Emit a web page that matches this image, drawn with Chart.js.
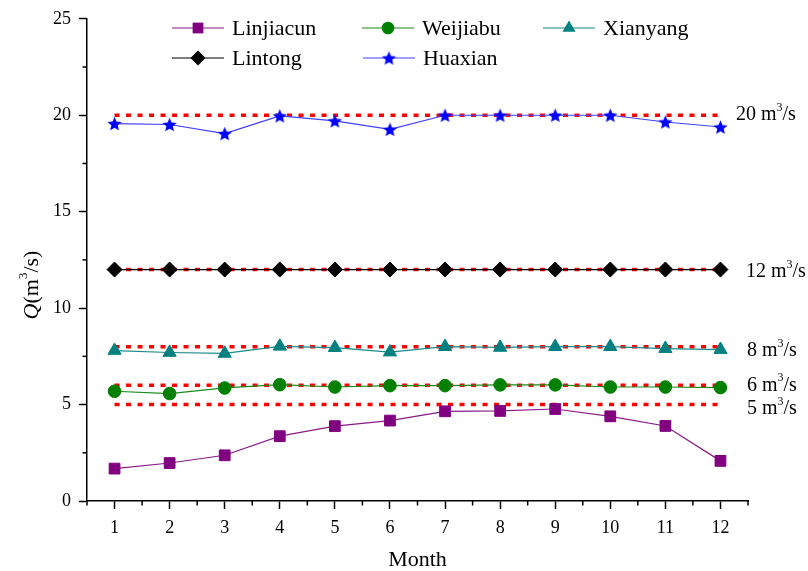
<!DOCTYPE html>
<html>
<head>
<meta charset="utf-8">
<script src="https://cdn.jsdelivr.net/npm/chart.js@4.4.1/dist/chart.umd.min.js"></script>
<style>
html,body{margin:0;padding:0;background:#fff;}
#wrap{width:808px;height:571px;position:relative;}
</style>
</head>
<body>
<div id="wrap"><canvas id="c" width="808" height="571"></canvas></div>
<script>
const months = ['1','2','3','4','5','6','7','8','9','10','11','12'];
const linjiacun = [1.68,1.97,2.37,3.36,3.88,4.17,4.65,4.67,4.77,4.39,3.89,2.08];
const weijiabu  = [5.69,5.57,5.86,6.03,5.91,5.98,5.98,6.02,6.02,5.91,5.91,5.88];
const xianyang  = [7.80,7.70,7.65,8.02,7.95,7.72,8.00,7.96,8.00,8.00,7.90,7.85];
const lintong   = [12,12,12,12,12,12,12,12,12,12,12,12];
const huaxian   = [19.57,19.52,19.05,19.97,19.71,19.27,20.0,20.0,20.0,20.0,19.65,19.39];
const refLevels = [20,12,8,6,5];
const refLabels = ['20','12','8','6','5'];
const yTicks = [0,5,10,15,20,25];

const FONT = '"Liberation Serif","Times New Roman",serif';

function makeStar(color, R){
  const s = Math.ceil(R*2+2);
  const cv = document.createElement('canvas');
  cv.width = s; cv.height = s;
  const g = cv.getContext('2d');
  g.fillStyle = color;
  g.beginPath();
  const cx = s/2, cy = s/2 + R*0.1, r = R*0.45;
  for(let i=0;i<10;i++){
    const a = -Math.PI/2 + i*Math.PI/5;
    const rr = i%2===0 ? R : r;
    const px = cx + rr*Math.cos(a), py = cy + rr*Math.sin(a);
    if(i===0) g.moveTo(px,py); else g.lineTo(px,py);
  }
  g.closePath(); g.fill();
  return cv;
}
const starImg = makeStar('#0000ff', 7.5);

const series = [
  {label:'Linjiacun', data:linjiacun, color:'#800080', line:'#8a1a8a', style:'rect', r:7.6},
  {label:'Weijiabu',  data:weijiabu,  color:'#008000', line:'#1a8a1a', style:'circle', r:6.3},
  {label:'Xianyang',  data:xianyang,  color:'#008080', line:'#1a8a8a', style:'triangle', r:7.6},
  {label:'Lintong',   data:lintong,   color:'#000000', line:'#000000', style:'rectRot', r:7.5},
  {label:'Huaxian',   data:huaxian,   color:'#0000ff', line:'#4040ff', style:starImg, r:7.5}
];

const datasets = [];
refLevels.forEach(v => {
  datasets.push({
    label:'ref'+v, data: months.map(() => v), borderColor:'#ff0000', borderWidth:3.5,
    borderDash:[5,6.5], pointRadius:0, fill:false, order:10
  });
});
series.forEach(s => {
  datasets.push({
    label:s.label, data:s.data, borderColor:s.line, backgroundColor:s.color,
    borderWidth:1.2, pointStyle:s.style, pointRadius:s.r, pointHoverRadius:s.r,
    pointBorderColor:s.color, pointBackgroundColor:s.color, pointBorderWidth:1, fill:false, order:1
  });
});

function drawMarker(ctx, style, x, y, r, color){
  ctx.save();
  ctx.fillStyle = color; ctx.strokeStyle = color;
  if(style instanceof HTMLCanvasElement){
    ctx.drawImage(style, x-style.width/2, y-style.height/2);
    ctx.restore(); return;
  }
  ctx.beginPath();
  if(style==='rect'){ const s=Math.SQRT1_2*r; ctx.rect(x-s,y-s,2*s,2*s); }
  else if(style==='circle'){ ctx.arc(x,y,r,0,Math.PI*2); }
  else if(style==='triangle'){
    for(let i=0;i<3;i++){ const a=-Math.PI/2+i*2*Math.PI/3; const px=x+r*Math.cos(a), py=y+r*Math.sin(a); if(i===0)ctx.moveTo(px,py); else ctx.lineTo(px,py);} ctx.closePath();
  }
  else if(style==='rectRot'){ ctx.moveTo(x-r,y); ctx.lineTo(x,y-r); ctx.lineTo(x+r,y); ctx.lineTo(x,y+r); ctx.closePath(); }
  ctx.fill();
  ctx.restore();
}

const overlay = {
  id:'overlay',
  afterDraw(chart){
    const ctx = chart.ctx;
    const xs = chart.scales.x, ys = chart.scales.y;
    const ca = chart.chartArea;
    ctx.save();
    // minor ticks
    ctx.strokeStyle = '#000'; ctx.lineWidth = 1.5;
    const step = xs.getPixelForValue(1) - xs.getPixelForValue(0);
    for(let i=0;i<=months.length;i++){
      const px = xs.getPixelForValue(0) + (i-0.5)*step;
      ctx.beginPath(); ctx.moveTo(px, ca.bottom); ctx.lineTo(px, ca.bottom+4.5); ctx.stroke();
    }
    for(let i=0;i<yTicks.length-1;i++){
      const py = ys.getPixelForValue(yTicks[i]+2.5);
      ctx.beginPath(); ctx.moveTo(ca.left, py); ctx.lineTo(ca.left-4.5, py); ctx.stroke();
    }
    // right labels
    const labelDx = [736,746,747,747,747];
    const labelDy = [0,2,4,0,4];
    ctx.fillStyle = '#000';
    ctx.textBaseline = 'middle';
    refLevels.forEach((v,i) => {
      const py = ys.getPixelForValue(v) + labelDy[i];
      let px = labelDx[i];
      ctx.font = '20px ' + FONT;
      const t1 = refLabels[i] + ' m';
      ctx.fillText(t1, px, py);
      px += ctx.measureText(t1).width;
      ctx.font = '12px ' + FONT;
      ctx.fillText('3', px, py-7);
      px += ctx.measureText('3').width;
      ctx.font = '20px ' + FONT;
      ctx.fillText('/s', px, py);
    });
    // legend
    const legendPos = [
      {x:172, y:28},{x:362, y:28},{x:543, y:28},{x:172, y:58},{x:363, y:58}
    ];
    series.forEach((s,i) => {
      const p = legendPos[i];
      ctx.strokeStyle = s.line; ctx.lineWidth = 1.2;
      ctx.beginPath(); ctx.moveTo(p.x, p.y); ctx.lineTo(p.x+52, p.y); ctx.stroke();
      drawMarker(ctx, s.style, p.x+26, p.y, s.r, s.color);
      ctx.fillStyle = '#000';
      ctx.font = '22px ' + FONT;
      ctx.textBaseline = 'middle';
      ctx.fillText(s.label, p.x+60, p.y+1);
    });
    // x title
    ctx.textAlign = 'center';
    ctx.font = '22px ' + FONT;
    ctx.fillText('Month', (ca.left+ca.right)/2, 560);
    // y title
    ctx.translate(32, 285);
    ctx.rotate(-Math.PI/2);
    ctx.textAlign = 'left';
    ctx.font = 'italic 22px ' + FONT;
    const wQ = ctx.measureText('Q').width;
    ctx.font = '22px ' + FONT;
    const w1 = ctx.measureText('(m').width;
    ctx.font = '13px ' + FONT;
    const w3 = ctx.measureText('3').width;
    ctx.font = '22px ' + FONT;
    const w2 = ctx.measureText('/s)').width;
    let x0 = -(wQ+w1+w3+w2)/2;
    ctx.font = 'italic 22px ' + FONT; ctx.fillText('Q', x0, 0); x0 += wQ;
    ctx.font = '22px ' + FONT; ctx.fillText('(m', x0, 0); x0 += w1;
    ctx.font = '13px ' + FONT; ctx.fillText('3', x0, -8); x0 += w3;
    ctx.font = '22px ' + FONT; ctx.fillText('/s)', x0, 0);
    ctx.restore();
  }
};

new Chart(document.getElementById('c'), {
  type:'line',
  data:{ labels: months, datasets },
  options:{
    responsive:false, animation:false, devicePixelRatio:1,
    layout:{ padding:{ left:0, right:60, top:17, bottom:0 } },
    plugins:{ legend:{display:false}, tooltip:{enabled:false} },
    elements:{ line:{ tension:0 } },
    scales:{
      x:{
        type:'category', offset:true,
        grid:{ display:true, drawOnChartArea:false, drawTicks:true, tickLength:8, tickWidth:1.5, tickColor:'#000', offset:false },
        border:{ display:true, color:'#000', width:1.5 },
        ticks:{ color:'#000', font:{ family:FONT, size:18 }, padding:8, maxRotation:0, autoSkip:false },
        afterFit(scale){ scale.height = 70; }
      },
      y:{
        type:'linear', min:0, max:25,
        grid:{ display:true, drawOnChartArea:false, drawTicks:true, tickLength:8, tickWidth:1.5, tickColor:'#000' },
        border:{ display:true, color:'#000', width:1.5 },
        ticks:{ color:'#000', font:{ family:FONT, size:18 }, padding:8, stepSize:5 },
        afterFit(scale){ scale.width = 87; }
      }
    }
  },
  plugins:[overlay]
});
</script>
</body>
</html>
